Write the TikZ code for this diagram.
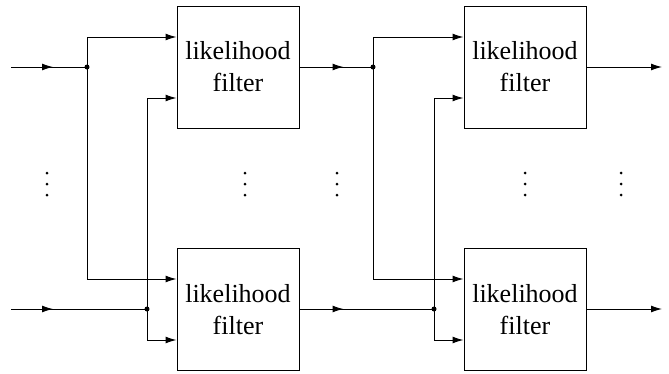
\documentclass[tikz,border=0pt]{standalone}
\usepackage{fontspec}
\setmainfont{Liberation Serif}
\usetikzlibrary{arrows.meta,decorations.markings}
\tikzset{
  filterbox/.style={draw, line width=1pt, minimum width=122pt, minimum height=122pt, inner sep=0pt, align=center, font=\fontsize{26}{32}\selectfont},
  wire/.style={line width=1pt},
  tip/.style={-{Latex[length=11pt,width=7pt]}},
  midarrow/.style={postaction={decorate}, decoration={markings, mark=at position #1 with {\arrow{Latex[length=11pt,width=7pt]}}}},
  junction/.style={circle, fill=black, inner sep=0pt, minimum size=5pt},
  vdot/.style={circle, fill=black, inner sep=0pt, minimum size=3pt}
}
\newcommand{\vdotsat}[2]{%
  \node[vdot] (#1a) at (#2,173) {};
  \node[vdot] (#1b) at (#2,184) {};
  \node[vdot] (#1c) at (#2,195) {};}
\begin{document}
\begin{tikzpicture}[x=1pt,y=-1pt]
\useasboundingbox (0,0) rectangle (669,373);
% boxes
\node[filterbox] (f1) at (238,67) {likelihood\\filter};
\node[filterbox] (f2) at (238,309.5) {likelihood\\filter};
\node[filterbox] (f3) at (525,67) {likelihood\\filter};
\node[filterbox] (f4) at (525,309.5) {likelihood\\filter};
% coordinates
\coordinate (in1) at (11,67);
\coordinate (in2) at (11,309);
\node[junction] (j1) at (87,67) {};
\node[junction] (j2) at (147,309) {};
\node[junction] (j3) at (373,67) {};
\node[junction] (j4) at (434,309) {};
\coordinate (out1) at (662,67);
\coordinate (out2) at (662,309);
% inputs
\draw[wire, midarrow=42pt] (in1) -- (j1.center);
\draw[wire, midarrow=42pt] (in2) -- (j2.center);
% left column fan-out
\draw[wire, tip] (j1.center) |- ([yshift=30pt]f1.west);
\draw[wire, tip] (j1.center) |- ([yshift=30.5pt]f2.west);
\draw[wire, tip] (j2.center) |- ([yshift=-31pt]f1.west);
\draw[wire, tip] (j2.center) |- ([yshift=-30.5pt]f2.west);
% middle links
\draw[wire, midarrow=44pt] (f1.east |- j3) -- (j3.center);
\draw[wire, midarrow=44pt] (f2.east |- j4) -- (j4.center);
% right column fan-out
\draw[wire, tip] (j3.center) |- ([yshift=30pt]f3.west);
\draw[wire, tip] (j3.center) |- ([yshift=30.5pt]f4.west);
\draw[wire, tip] (j4.center) |- ([yshift=-31pt]f3.west);
\draw[wire, tip] (j4.center) |- ([yshift=-30.5pt]f4.west);
% outputs
\draw[wire, tip] (f3.east |- out1) -- (out1);
\draw[wire, tip] (f4.east |- out2) -- (out2);
% ellipses
\vdotsat{d1}{47}
\vdotsat{d2}{245}
\vdotsat{d3}{337}
\vdotsat{d4}{525}
\vdotsat{d5}{621}
\end{tikzpicture}
\end{document}
